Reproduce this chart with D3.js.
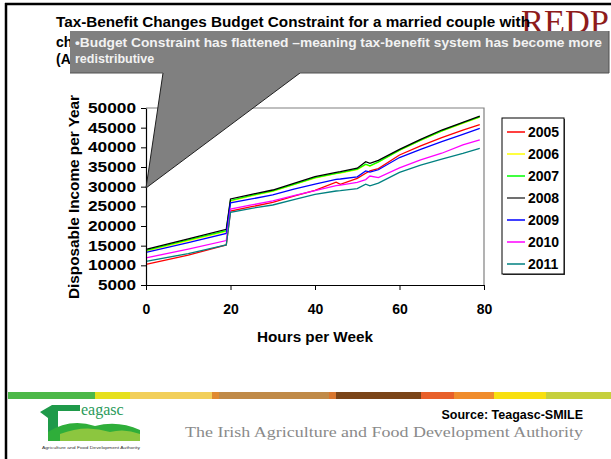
<!DOCTYPE html>
<html><head><meta charset="utf-8">
<script src="https://cdn.jsdelivr.net/npm/d3@7"></script>
<style>body{margin:0;background:#fff}svg{display:block}</style>
</head><body>
<svg id="c" width="611" height="459"></svg>
<script>
const hours = [0,10,19,20,25,30,35,40,45,46,50,52,53,55,60,65,70,75,79];
const years = ["2005","2006","2007","2008","2009","2010","2011"];
const colors = ["#ff0000","#ffff00","#00ff00","#000000","#0000ff","#ff00ff","#008080"];
const legendColors = ["#ff0000","#ffff00","#00ff00","#404040","#0000ff","#ff00ff","#008080"];
const s2005 = [10250,12600,15170,23800,24900,26000,27600,29050,31150,30600,32100,33400,34000,34600,38050,40350,42450,44400,45800];
const s2006 = [13600,16250,18600,26300,27650,28800,30500,32200,33300,33450,34350,35600,35200,36200,39200,41750,44100,46100,47700];
const s2007 = [13800,16450,18800,26500,27800,28900,30600,32300,33400,33550,34450,35700,35300,36300,39300,41850,44200,46200,47750];
const s2008 = [14050,16700,19150,26870,28050,29150,30850,32550,33650,33800,34700,36350,35950,36700,39500,42030,44400,46360,47950];
const s2009 = [13300,15800,18100,25900,26870,27900,29400,30650,31850,31950,32500,34000,33700,34300,37400,39500,41450,43300,44800];
const s2010 = [11900,14100,16300,24300,25350,26400,27700,29000,30250,30400,31100,31800,32700,32300,34800,36800,38500,40600,41900];
const s2011 = [11000,13000,15170,23480,24500,25340,26700,28050,28900,29000,29500,30650,30200,30900,33650,35500,37000,38450,39750];
const series = [s2005,s2006,s2007,s2008,s2009,s2010,s2011];
const yTicks = [5000,10000,15000,20000,25000,30000,35000,40000,45000,50000];
const xTicks = [0,20,40,60,80];
const titleLines = ["Tax-Benefit Changes Budget Constraint for a married couple with","ch","(A"];
const calloutLines = ["\u2022Budget Constraint has flattened \u2013meaning tax-benefit system has become more","redistributive"];
const yTitle = "Disposable Income per Year";
const xTitle = "Hours per Week";
const stripeColors = ["#4cb848","#e6e01c","#f2cf5a","#e08a30","#c08a48","#d8762e","#7a4418","#e8602a","#f08c2c","#f8e010","#c6d03c"];
const stripeEdges = [8,95,130,212,219,329,336,421,454,494,546,611];

const svg = d3.select("#c");
const F = "Arial, 'Liberation Sans', sans-serif";

// frame
svg.append("line").attr("x1",6).attr("x2",6).attr("y1",3).attr("y2",459).attr("stroke","#000").attr("stroke-width",2.5);
svg.append("line").attr("x1",5).attr("x2",611).attr("y1",4).attr("y2",4).attr("stroke","#000").attr("stroke-width",2.5);

// REDP logo text
svg.append("text").attr("x",521).attr("y",33).attr("font-family","'Liberation Serif', 'DejaVu Serif', serif")
  .attr("font-size",34).attr("fill","#8e1b1b").attr("textLength",88).attr("lengthAdjust","spacingAndGlyphs").text("REDP");

// title
const tY = [27,47,64];
titleLines.forEach((t,i)=>{
  const el = svg.append("text").attr("x",56).attr("y",tY[i]).attr("font-family",F).attr("font-weight","bold")
    .attr("font-size",14).attr("fill","#000").text(t);
  if(i===0) el.attr("textLength",474).attr("lengthAdjust","spacingAndGlyphs");
});

// chart
const x = d3.scaleLinear().domain([0,80]).range([146,484]);
const y = d3.scaleLinear().domain([5000,50000]).range([285,108]);

// plot border (gray top/right)
svg.append("path").attr("d",`M${x(0)},${y(50000)}H${x(80)}V${y(5000)}`).attr("fill","none").attr("stroke","#808080").attr("stroke-width",1.2);

const line = d3.line().x((d,i)=>x(hours[i])).y(d=>y(d));
series.forEach((s,k)=>{
  svg.append("path").datum(s).attr("d",line).attr("fill","none").attr("stroke",colors[k]).attr("stroke-width",1.3);
});

const yAxis = svg.append("g").attr("transform",`translate(${x(0)},0)`)
  .call(d3.axisLeft(y).tickValues(yTicks).tickSize(5).tickSizeOuter(0).tickPadding(5).tickFormat(d3.format("d")));
yAxis.select(".domain").attr("stroke","#000").attr("stroke-width",1.2);
yAxis.selectAll(".tick line").attr("stroke","#000");
yAxis.selectAll("text").attr("font-family",F).attr("font-weight","bold").attr("font-size",14).attr("fill","#000")
  .attr("textLength",d=>d>=10000?48:38).attr("lengthAdjust","spacingAndGlyphs");

const xAxis = svg.append("g").attr("transform",`translate(0,${y(5000)})`)
  .call(d3.axisBottom(x).tickValues(xTicks).tickSize(5).tickSizeOuter(0).tickPadding(14));
xAxis.select(".domain").attr("stroke","#000").attr("stroke-width",1.2);
xAxis.selectAll(".tick line").attr("stroke","#000");
xAxis.selectAll("text").attr("font-family",F).attr("font-weight","bold").attr("font-size",14).attr("fill","#000");

svg.append("text").attr("x",315).attr("y",342).attr("text-anchor","middle").attr("font-family",F).attr("font-weight","bold")
  .attr("font-size",14).attr("textLength",116).attr("lengthAdjust","spacingAndGlyphs").text(xTitle);
svg.append("text").attr("transform","translate(79,197) rotate(-90)").attr("text-anchor","middle").attr("font-family",F)
  .attr("font-weight","bold").attr("font-size",14).attr("textLength",204).attr("lengthAdjust","spacingAndGlyphs").text(yTitle);

// legend
const lg = svg.append("g");
lg.append("rect").attr("x",503).attr("y",119).attr("width",62).attr("height",156).attr("fill","#404040");
lg.append("rect").attr("x",502).attr("y",118).attr("width",62).attr("height",156).attr("fill","#fff").attr("stroke","#000").attr("stroke-width",1);
const ly = d3.scaleBand().domain(years).range([121,275]);
years.forEach((yr,i)=>{
  const cy = ly(yr)+ly.bandwidth()/2;
  lg.append("line").attr("x1",507).attr("x2",525).attr("y1",cy).attr("y2",cy).attr("stroke",legendColors[i]).attr("stroke-width",1.5);
  lg.append("text").attr("x",528).attr("y",cy+5).attr("font-family",F).attr("font-weight","bold").attr("font-size",14).text(yr);
});

// callout
const cb = svg.append("g");
cb.append("path").attr("d","M163,73 L146,188 L300,73 Z").attr("fill","#808080");
cb.append("path").attr("d","M163,73 L146,188 L300,73").attr("fill","none").attr("stroke","#202020").attr("stroke-width",1);
cb.append("rect").attr("x",70).attr("y",31).attr("width",539).attr("height",42).attr("fill","#808080");
cb.append("path").attr("d","M609,31 V73 H300 M163,73 H70").attr("fill","none").attr("stroke","#505050").attr("stroke-width",1);
calloutLines.forEach((t,i)=>{
  const el = cb.append("text").attr("x",75).attr("y",[47,63][i]).attr("font-family",F).attr("font-weight","bold")
    .attr("font-size",12.5).attr("fill","#f2f2f2").text(t);
  if(i===0) el.attr("textLength",527).attr("lengthAdjust","spacingAndGlyphs");
});

// stripe
stripeColors.forEach((c,i)=>{
  svg.append("rect").attr("x",stripeEdges[i]).attr("y",392).attr("width",stripeEdges[i+1]-stripeEdges[i]).attr("height",7).attr("fill",c);
});

// teagasc logo (simplified)
const lo = svg.append("g");
lo.append("path").attr("d","M40,412 L52,405 L80,405 L80,411 L58,411 L58,432 L48,432 L48,418 Z").attr("fill","#1f9a4a");
lo.append("path").attr("d","M48,432 Q70,418 95,426 Q118,420 140,430 L140,441 L48,441 Z").attr("fill","#2fae3a");
lo.append("path").attr("d","M60,434 Q85,424 110,432 Q125,428 140,434 L140,441 L60,441 Z").attr("fill","#8cc63f");
lo.append("text").attr("x",81).attr("y",415).attr("font-family","'Liberation Serif', serif").attr("font-size",16).attr("fill","#2a9a5a").text("eagasc");
lo.append("text").attr("x",42).attr("y",449).attr("font-family",F).attr("font-size",3.5).attr("fill","#333")
  .attr("textLength",98).attr("lengthAdjust","spacingAndGlyphs").text("Agriculture and Food Development Authority");

svg.append("text").attr("x",583).attr("y",419).attr("text-anchor","end").attr("font-family",F).attr("font-weight","bold")
  .attr("font-size",12.5).text("Source: Teagasc-SMILE");
svg.append("text").attr("x",583).attr("y",437).attr("text-anchor","end").attr("font-family","'Liberation Serif', 'DejaVu Serif', serif")
  .attr("font-size",14).attr("fill","#8a8a8a").attr("textLength",398).attr("lengthAdjust","spacingAndGlyphs")
  .text("The Irish Agriculture and Food Development Authority");
</script>
</body></html>
